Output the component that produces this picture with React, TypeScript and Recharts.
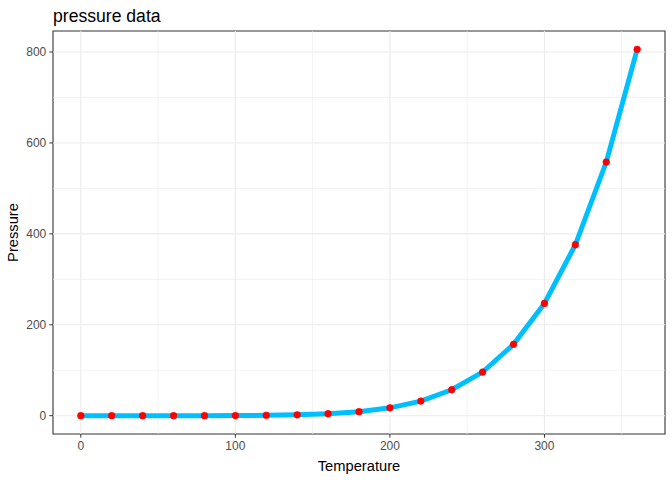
import React from "react";
import {
  ComposedChart,
  Line,
  XAxis,
  YAxis,
  ReferenceLine,
  ReferenceArea,
  Customized,
} from "recharts";

const temperature = [0, 20, 40, 60, 80, 100, 120, 140, 160, 180, 200, 220, 240, 260, 280, 300, 320, 340, 360];
const pressure = [0.0002, 0.0012, 0.006, 0.03, 0.09, 0.27, 0.75, 1.85, 4.2, 8.8, 17.3, 32.1, 57, 96, 157, 247, 376, 558, 806];
const xTicks = [0, 100, 200, 300];
const yTicks = [0, 200, 400, 600, 800];
const xMinorGrid = [50, 150, 250, 350];
const yMinorGrid = [100, 300, 500, 700];
const xDomain = [-18, 378];
const yDomain = [-40.3, 846.3];

const data = temperature.map((t, i) => ({ temperature: t, pressure: pressure[i] }));

const FONT = "'Liberation Sans', Arial, sans-serif";
const GRID = "#EBEBEB";

const Title = () => (
  <text x={53} y={22} fontFamily={FONT} fontSize={17.6} fill="#000000">
    pressure data
  </text>
);

export default function App() {
  return (
    <div style={{ position: "absolute", left: 0, top: 0, width: 672, height: 480, background: "#fff" }}>
      <ComposedChart
        width={672}
        height={480}
        data={data}
        margin={{ top: 31, right: 7, left: 0, bottom: 0 }}
      >
        <XAxis
          dataKey="temperature"
          type="number"
          domain={xDomain}
          ticks={xTicks}
          allowDataOverflow
          axisLine={false}
          tickLine={{ stroke: "#333333", strokeWidth: 1 }}
          tickSize={3.7}
          tickMargin={4}
          height={46}
          tick={{ fill: "#4D4D4D", fontSize: 12, fontFamily: FONT }}
          label={{
            value: "Temperature",
            position: "insideBottom",
            offset: 9,
            fill: "#000000",
            fontSize: 14.7,
            fontFamily: FONT,
          }}
        />
        <YAxis
          type="number"
          domain={yDomain}
          ticks={yTicks}
          allowDataOverflow
          axisLine={false}
          tickLine={{ stroke: "#333333", strokeWidth: 1 }}
          tickSize={3.7}
          tickMargin={3}
          width={53}
          tick={{ fill: "#4D4D4D", fontSize: 12, fontFamily: FONT }}
          label={{
            value: "Pressure",
            angle: -90,
            position: "insideLeft",
            offset: 13,
            style: { textAnchor: "middle" },
            fill: "#000000",
            fontSize: 14.7,
            fontFamily: FONT,
          }}
        />
        {xMinorGrid.map((v) => (
          <ReferenceLine key={"xm" + v} x={v} stroke={GRID} strokeWidth={0.6} />
        ))}
        {yMinorGrid.map((v) => (
          <ReferenceLine key={"ym" + v} y={v} stroke={GRID} strokeWidth={0.6} />
        ))}
        {xTicks.map((v) => (
          <ReferenceLine key={"xM" + v} x={v} stroke={GRID} strokeWidth={1.1} />
        ))}
        {yTicks.map((v) => (
          <ReferenceLine key={"yM" + v} y={v} stroke={GRID} strokeWidth={1.1} />
        ))}
        <Line
          dataKey="pressure"
          type="linear"
          stroke="#00BFFF"
          strokeWidth={5}
          dot={{ r: 3.4, fill: "#FF0000", stroke: "#FF0000", strokeWidth: 0.5 }}
          activeDot={false}
          isAnimationActive={false}
        />
        <ReferenceArea
          x1={xDomain[0]}
          x2={xDomain[1]}
          y1={yDomain[0]}
          y2={yDomain[1]}
          fill="none"
          fillOpacity={0}
          stroke="#333333"
          strokeWidth={1.1}
          ifOverflow="visible"
        />
        <Customized component={Title} />
      </ComposedChart>
    </div>
  );
}
